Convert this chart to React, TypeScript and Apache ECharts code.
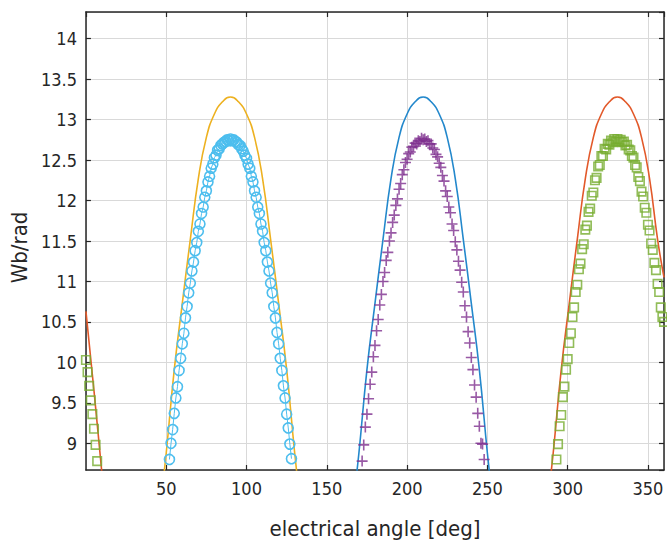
import React, { useEffect, useRef } from "react";
import * as echarts from "echarts";

const FONT = "'DejaVu Sans Condensed', 'DejaVu Sans', sans-serif";
const INK = "#262626";
const GRID_LINE = "#d9d9d9";

// Analytical flux linkage per phase (solid lines), sampled every 5 deg
const phaseAAngle = [45, 50, 55, 60, 65, 70, 75, 80, 85, 90, 95, 100, 105, 110, 115, 120, 125, 130, 135];
const phaseAFlux = [7.95, 8.88, 9.91, 10.73, 11.52, 12.27, 12.78, 13.07, 13.22, 13.28, 13.22, 13.07, 12.78, 12.27, 11.52, 10.73, 9.91, 8.88, 7.95];

const phaseBAngle = [165, 170, 175, 180, 185, 190, 195, 200, 205, 210, 215, 220, 225, 230, 235, 240, 245, 250, 255];
const phaseBFlux = [7.95, 8.88, 9.91, 10.73, 11.52, 12.27, 12.78, 13.07, 13.22, 13.28, 13.22, 13.07, 12.78, 12.27, 11.52, 10.73, 9.91, 8.88, 7.95];

const phaseCAngle = [286, 291, 296, 301, 306, 311, 316, 321, 326, 331, 336, 341, 346, 351, 356, 360];
const phaseCFlux = [7.95, 8.88, 9.91, 10.73, 11.52, 12.27, 12.78, 13.07, 13.22, 13.28, 13.22, 13.07, 12.78, 12.27, 11.52, 11.05];
const phaseCTailAngle = [0, 5, 10, 15];
const phaseCTailFlux = [10.63, 9.65, 8.62, 7.6];

// Simulated flux linkage (markers), one sample per degree
const simAStart = 52;
const simAFlux = [
  8.8, 9.0, 9.17, 9.37, 9.56, 9.7, 9.9, 10.05, 10.23, 10.36,
  10.55, 10.69, 10.86, 10.98, 11.13, 11.24, 11.38, 11.48, 11.62, 11.71,
  11.84, 11.92, 12.04, 12.12, 12.23, 12.3, 12.4, 12.45, 12.53, 12.56,
  12.62, 12.64, 12.68, 12.7, 12.72, 12.73, 12.75, 12.74, 12.76, 12.74,
  12.75, 12.73, 12.72, 12.69, 12.68, 12.64, 12.61, 12.56, 12.52, 12.45,
  12.4, 12.3, 12.23, 12.12, 12.04, 11.92, 11.84, 11.71, 11.62, 11.48,
  11.38, 11.24, 11.13, 10.98, 10.86, 10.69, 10.55, 10.37, 10.23, 10.05,
  9.9, 9.71, 9.56, 9.36, 9.19, 8.99, 8.81,
];

const simBStart = 172;
const simBFlux = [
  8.78, 8.98, 9.2, 9.36, 9.55, 9.73, 9.88, 10.07, 10.21, 10.39,
  10.53, 10.71, 10.84, 11.0, 11.11, 11.26, 11.36, 11.5, 11.6, 11.73,
  11.82, 11.94, 12.02, 12.14, 12.21, 12.32, 12.38, 12.47, 12.51, 12.58,
  12.6, 12.66, 12.67, 12.71, 12.7, 12.74, 12.73, 12.77, 12.75, 12.76,
  12.73, 12.74, 12.7, 12.7, 12.65, 12.63, 12.57, 12.54, 12.46, 12.41,
  12.31, 12.24, 12.12, 12.05, 11.92, 11.85, 11.71, 11.63, 11.49, 11.39,
  11.25, 11.14, 10.99, 10.87, 10.7, 10.56, 10.38, 10.24, 10.06, 9.91,
  9.72, 9.57, 9.37, 9.21, 9.0, 8.99, 8.8,
];

const simCStart = 293;
const simCFlux = [
  8.8, 8.99, 9.21, 9.35, 9.57, 9.7, 9.91, 10.04, 10.24, 10.36,
  10.56, 10.68, 10.87, 10.96, 11.15, 11.22, 11.4, 11.46, 11.64, 11.69,
  11.86, 11.9, 12.06, 12.1, 12.25, 12.28, 12.42, 12.44, 12.55, 12.55,
  12.64, 12.63, 12.7, 12.69, 12.74, 12.72, 12.76, 12.73, 12.76, 12.73,
  12.75, 12.72, 12.73, 12.68, 12.69, 12.63, 12.62, 12.55, 12.53, 12.44,
  12.41, 12.29, 12.24, 12.11, 12.05, 11.91, 11.85, 11.7, 11.63, 11.47,
  11.39, 11.23, 11.14, 10.97, 10.87, 10.68, 10.56, 10.5,
];
const simCTailStart = 0;
const simCTailFlux = [10.03, 9.88, 9.71, 9.53, 9.36, 9.18, 8.98, 8.78];

const pairs = (xs: number[], ys: number[]) => xs.map((x, i) => [x, ys[i]]);
const perDegree = (start: number, ys: number[]) => ys.map((y, i) => [start + i, y]);

const COLORS = {
  a: "#EDB120",
  b: "#2388cc",
  c: "#E2592A",
  simA: "#4DBEEE",
  simB: "#7E2F8E",
  simC: "#77AC30",
};

const PLUS = "path://M0,5L10,5M5,0L5,10";

export default function App() {
  const ref = useRef<HTMLDivElement>(null);

  useEffect(() => {
    if (!ref.current) return;
    const chart = echarts.init(ref.current, undefined, { renderer: "svg" });

    const frameLine = { show: true, onZero: false, lineStyle: { color: INK, width: 1.5 } };
    const innerTick = { show: true, inside: true, length: 5, lineStyle: { color: INK, width: 1.2 } };
    const tickLabel = { fontFamily: FONT, fontSize: 18, color: INK };

    const solid = (data: number[][], color: string) => ({
      type: "line",
      data,
      smooth: true,
      symbol: "none",
      clip: true,
      lineStyle: { color, width: 1.6 },
      z: 2,
    });

    const hollow = (data: number[][], color: string, symbol: string, size: number) => ({
      type: "scatter",
      data,
      symbol,
      symbolSize: size,
      clip: true,
      itemStyle: { color: "rgba(0,0,0,0)", borderColor: color, borderWidth: 1.6 },
      z: 3,
    });

    chart.setOption({
      animation: false,
      backgroundColor: "#ffffff",
      grid: { left: 82, right: 3, top: 12, bottom: 72 },
      xAxis: [
        {
          type: "value",
          min: 0,
          max: 360,
          interval: 50,
          position: "bottom",
          name: "electrical angle [deg]",
          nameLocation: "middle",
          nameGap: 47,
          nameTextStyle: { fontFamily: FONT, fontSize: 22, color: INK },
          axisLine: frameLine,
          axisTick: innerTick,
          axisLabel: { ...tickLabel, margin: 9, showMinLabel: false, showMaxLabel: false },
          splitLine: { show: true, lineStyle: { color: GRID_LINE, width: 1 } },
        },
        {
          type: "value",
          min: 0,
          max: 360,
          interval: 50,
          position: "top",
          axisLine: frameLine,
          axisTick: innerTick,
          axisLabel: { show: false },
          splitLine: { show: false },
        },
      ],
      yAxis: [
        {
          type: "value",
          min: 8.67,
          max: 14.33,
          splitNumber: 10,
          position: "left",
          name: "Wb/rad",
          nameLocation: "middle",
          nameGap: 52,
          nameTextStyle: { fontFamily: FONT, fontSize: 22, color: INK, padding: [0, 13, 0, 0] },
          axisLine: frameLine,
          axisTick: innerTick,
          axisLabel: {
            ...tickLabel,
            margin: 9,
            showMinLabel: false,
            showMaxLabel: false,
            formatter: (v: number) => (Math.abs(v * 2 - Math.round(v * 2)) < 1e-6 ? String(v) : ""),
          },
          splitLine: { show: true, lineStyle: { color: GRID_LINE, width: 1 } },
        },
        {
          type: "value",
          min: 8.67,
          max: 14.33,
          splitNumber: 10,
          position: "right",
          axisLine: frameLine,
          axisTick: innerTick,
          axisLabel: { show: false },
          splitLine: { show: false },
        },
      ],
      series: [
        solid(pairs(phaseAAngle, phaseAFlux), COLORS.a),
        solid(pairs(phaseBAngle, phaseBFlux), COLORS.b),
        solid(pairs(phaseCAngle, phaseCFlux), COLORS.c),
        solid(pairs(phaseCTailAngle, phaseCTailFlux), COLORS.c),
        {
          type: "line",
          data: perDegree(simAStart, simAFlux),
          symbol: "circle",
          symbolSize: 10,
          showAllSymbol: true,
          clip: true,
          lineStyle: { color: COLORS.simA, width: 1 },
          itemStyle: { color: "rgba(0,0,0,0)", borderColor: COLORS.simA, borderWidth: 1.6 },
          z: 3,
        },
        hollow(perDegree(simBStart, simBFlux), COLORS.simB, PLUS, 11),
        hollow(perDegree(simCStart, simCFlux), COLORS.simC, "rect", 8.5),
        hollow(perDegree(simCTailStart, simCTailFlux), COLORS.simC, "rect", 8.5),
      ],
    });

    return () => chart.dispose();
  }, []);

  return (
    <div
      ref={ref}
      style={{ position: "fixed", left: 0, top: 0, width: 667, height: 544, background: "#fff" }}
    />
  );
}
